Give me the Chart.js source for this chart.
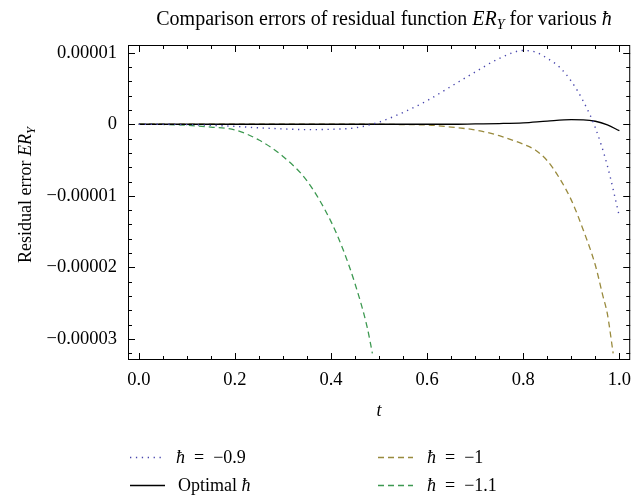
<!DOCTYPE html>
<html lang="en">
<head>
<meta charset="utf-8"/>
<title>Comparison errors of residual function ER_Y for various ħ</title>
<script src="https://cdn.jsdelivr.net/npm/chart.js"></script>
<style>
  html,body{margin:0;padding:0;background:#fff}
  canvas{display:block}
</style>
</head>
<body>
<canvas id="chart" width="640" height="499"></canvas>
<script>
// -------- data --------
const tBlue  = [0,0.05,0.1,0.15,0.2,0.25,0.3,0.35,0.4,0.45,0.5,0.55,0.6,0.65,0.7,0.75,0.8,0.825,0.85,0.875,0.9,0.925,0.95,0.975,1.0];
const yBlue  = [0,0,-0.05e-6,-0.15e-6,-0.3e-6,-0.5e-6,-0.65e-6,-0.75e-6,-0.7e-6,-0.5e-6,0.3e-6,1.65e-6,3.3e-6,5.3e-6,7.3e-6,9.2e-6,10.3e-6,10.1e-6,9.2e-6,8.0e-6,6.0e-6,3.2e-6,-0.5e-6,-5.8e-6,-12.9e-6];
const tBlack = [0,0.1,0.2,0.3,0.4,0.5,0.6,0.65,0.7,0.75,0.8,0.85,0.9,0.925,0.95,0.975,1.0];
const yBlack = [0,0,0,0,0,0,0,0,0.05e-6,0.1e-6,0.2e-6,0.45e-6,0.64e-6,0.62e-6,0.42e-6,-0.1e-6,-0.9e-6];
const tGold  = [0,0.1,0.2,0.3,0.4,0.5,0.55,0.6,0.65,0.7,0.75,0.8,0.825,0.85,0.875,0.9,0.925,0.95,0.965,0.975,0.987];
const yGold  = [0,0,0,0,0,0,-0.05e-6,-0.1e-6,-0.4e-6,-0.8e-6,-1.6e-6,-2.8e-6,-3.6e-6,-5.1e-6,-7.5e-6,-10.6e-6,-14.8e-6,-19.7e-6,-23.8e-6,-26.5e-6,-32e-6];
const tGreen = [0,0.05,0.1,0.15,0.2,0.25,0.3,0.35,0.4,0.425,0.45,0.475,0.486];
const yGreen = [0,-0.03e-6,-0.15e-6,-0.4e-6,-0.8e-6,-2.2e-6,-4.5e-6,-7.9e-6,-13.6e-6,-17.5e-6,-22.3e-6,-28.3e-6,-32e-6];

const seriesLabels = ['ħ\u2002=\u2002−0.9','Optimal ħ','ħ\u2002=\u2002−1','ħ\u2002=\u2002−1.1'];
const xTickValues = [0,0.2,0.4,0.6,0.8,1.0];
const xTickLabels = ['0.0','0.2','0.4','0.6','0.8','1.0'];
const yTickValues = [1e-5,0,-1e-5,-2e-5,-3e-5];
const yTickLabels = ['0.00001','0','−0.00001','−0.00002','−0.00003'];

const FONT = '"Liberation Serif", "DejaVu Serif", serif';
const pts = (ts, ys) => ts.map((t, i) => ({x: t, y: ys[i]}));

// rich text: parts are {s, it, sub}
function setFont(ctx, p, size){
  ctx.font = (p.it ? 'italic ' : '') + (p.sub ? size*0.7 : size) + 'px ' + FONT;
}
function drawRich(ctx, parts, x, y, size, align){
  let w = 0;
  parts.forEach(p => { setFont(ctx, p, size); w += ctx.measureText(p.s).width; });
  let cx = align === 'center' ? x - w/2 : x;
  ctx.textAlign = 'left';
  ctx.textBaseline = 'alphabetic';
  parts.forEach(p => {
    setFont(ctx, p, size);
    ctx.fillText(p.s, cx, p.sub ? y + size*0.22 : y);
    cx += ctx.measureText(p.s).width;
  });
}
function hbarParts(label){
  const out = [];
  label.split('ħ').forEach((s, i, arr) => {
    if(s) out.push({s});
    if(i < arr.length - 1) out.push({s:'ħ', it:true});
  });
  return out;
}

// frame, inward ticks, titles and legend
const decor = {
  id: 'decor',
  afterDatasetsDraw(chart){
    const {ctx, chartArea:{left, right, top, bottom}, scales:{x, y}} = chart;
    ctx.save();
    ctx.strokeStyle = '#000';
    ctx.lineWidth = 1;
    ctx.strokeRect(left + 0.5, top + 0.5, right - left - 1, bottom - top - 1);
    ctx.beginPath();
    for(let k = 0; k <= 20; k++){
      const px = Math.round(x.getPixelForValue(k*0.05)) + 0.5;
      const len = k % 4 === 0 ? 7 : 4;
      ctx.moveTo(px, bottom); ctx.lineTo(px, bottom - len);
      ctx.moveTo(px, top); ctx.lineTo(px, top + len);
    }
    for(let k = -16; k <= 5; k++){
      const py = Math.round(y.getPixelForValue(k*2e-6)) + 0.5;
      if(py < top || py > bottom) continue;
      const len = k % 5 === 0 ? 7 : 4;
      ctx.moveTo(left, py); ctx.lineTo(left + len, py);
      ctx.moveTo(right, py); ctx.lineTo(right - len, py);
    }
    ctx.stroke();

    ctx.fillStyle = '#000';
    // plot title
    drawRich(ctx, [{s:'Comparison errors of residual function '},{s:'ER', it:true},{s:'Y', it:true, sub:true},{s:' for various '},{s:'ħ', it:true}], 384, 25, 20, 'center');
    // x title
    drawRich(ctx, [{s:'t', it:true}], (left + right)/2, 416, 18, 'center');
    // y title
    ctx.save();
    ctx.translate(31, 195);
    ctx.rotate(-Math.PI/2);
    drawRich(ctx, [{s:'Residual error '},{s:'ER', it:true},{s:'Y', it:true, sub:true}], 0, 0, 18, 'center');
    ctx.restore();

    // legend, two columns
    const slots = [[130,457,176],[130,485,178],[378,457,427],[378,485,427]];
    chart.data.datasets.forEach((ds, i) => {
      const [lx, ly, tx] = slots[i];
      ctx.save();
      ctx.strokeStyle = ds.borderColor;
      ctx.lineWidth = ds.borderWidth;
      ctx.setLineDash(ds.borderDash || []);
      ctx.beginPath();
      ctx.moveTo(lx, ly + 0.5); ctx.lineTo(lx + 35, ly + 0.5);
      ctx.stroke();
      ctx.restore();
      drawRich(ctx, hbarParts(ds.label), tx, ly + 6, 18, 'left');
    });
    ctx.restore();
  }
};

const ds = (label, data, color, dash, width) => ({
  label, data, borderColor: color, backgroundColor: color, borderDash: dash,
  borderWidth: width, pointRadius: 0, fill: false, cubicInterpolationMode: 'monotone'
});

new Chart(document.getElementById('chart'), {
  type: 'line',
  data: {
    datasets: [
      ds(seriesLabels[0], pts(tBlue, yBlue),   '#4846ad', [1.3, 4.6], 1.4),
      ds(seriesLabels[1], pts(tBlack, yBlack), '#000000', [], 1.3),
      ds(seriesLabels[2], pts(tGold, yGold),   '#998a3d', [6, 4], 1.3),
      ds(seriesLabels[3], pts(tGreen, yGreen), '#3d9951', [6, 4], 1.3)
    ]
  },
  options: {
    responsive: false,
    animation: false,
    layout: {padding: {left: 0, right: 2, top: 45, bottom: 89}},
    plugins: {legend: {display: false}, title: {display: false}, tooltip: {enabled: false}},
    scales: {
      x: {
        type: 'linear', min: -0.0225, max: 1.0225,
        afterBuildTicks: s => { s.ticks = xTickValues.map(v => ({value: v})); },
        afterFit: s => { s.height = 50; },
        grid: {display: false, drawTicks: false},
        border: {display: false},
        ticks: {callback: (v, i) => xTickLabels[i], color: '#000', padding: 9, maxRotation: 0,
                font: {family: FONT, size: 18.5}}
      },
      y: {
        type: 'linear', min: -3.293e-5, max: 1.107e-5,
        afterBuildTicks: s => { s.ticks = yTickValues.map(v => ({value: v})); },
        afterFit: s => { s.width = 128; },
        grid: {display: false, drawTicks: false},
        border: {display: false},
        ticks: {callback: (v, i) => yTickLabels[i], color: '#000', padding: 11,
                font: {family: FONT, size: 18.5}}
      }
    }
  },
  plugins: [decor]
});
</script>
</body>
</html>
